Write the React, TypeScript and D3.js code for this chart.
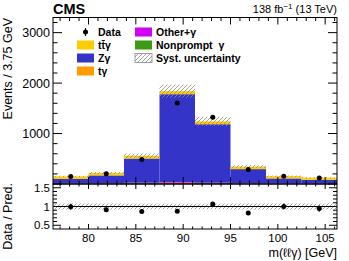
import React from 'react';
import * as d3 from 'd3';

// bin edges in m(llγ), 3.75 GeV wide
const binEdges = [76.25, 80, 83.75, 87.5, 91.25, 95, 98.75, 102.5, 106.25];

// stacked predictions (events / bin)
const nonpromptG = [7, 6, 11, 13, 5, 5, 7, 6];
const otherG = [5, 6, 10, 22, 15, 6, 5, 4];
const tG = [3, 3, 4, 5, 5, 4, 3, 3];
const zG = [85, 155, 480, 1740, 1160, 280, 95, 70];
const ttG = [50, 50, 55, 60, 55, 50, 45, 42];
const systUnc = [12, 18, 42, 130, 90, 28, 13, 10];

// observed
const dataCounts = [149, 201, 487, 1605, 1325, 286, 155, 118];

const xMajor = [80, 85, 90, 95, 100, 105];
const yMajor = [1000, 2000, 3000];
const ratioMajor = [0.5, 1, 1.5];

const W = 349, H = 261;
const L = 53, R = 337, T = 17.5, MB = 184, RB = 229;
const FONT = '"Liberation Sans", Arial, Helvetica, sans-serif';

const series = [
  { key: 'np', vals: nonpromptG, color: '#3c9a14' },
  { key: 'other', vals: otherG, color: '#d200f5' },
  { key: 'tg', vals: tG, color: '#ff9a00' },
  { key: 'zg', vals: zG, color: '#3434c8' },
  { key: 'tt', vals: ttG, color: '#ffcc00' },
];

export default function App() {
  const x = d3.scaleLinear().domain([76.25, 106.25]).range([L, R]);
  const y = d3.scaleLinear().domain([0, 3300]).range([MB, T]);
  const yr = d3.scaleLinear().domain([0.4, 1.6]).range([RB, MB]);

  const rows = dataCounts.map((_, i) => {
    const r: any = { i };
    series.forEach(s => { r[s.key] = s.vals[i]; });
    return r;
  });
  const stacked = d3.stack().keys(series.map(s => s.key))(rows);
  const totals = rows.map((_, i) => d3.sum(series, s => s.vals[i]));

  const xMinor = d3.range(77, 107, 1);
  const yMinor = d3.range(0, 3300, 200);
  const rMinor = d3.range(0.5, 1.6, 0.1);

  const ticksX = (yPos: number, dir: number, major: number, minor: number, key: string) => (
    <g key={key}>
      {xMinor.map(v => {
        const len = xMajor.includes(v) ? major : minor;
        return <line key={v} x1={x(v)} x2={x(v)} y1={yPos} y2={yPos + dir * len} stroke="#000" strokeWidth={1} />;
      })}
    </g>
  );

  const ticksY = (scale: any, vals: number[], majors: number[], major: number, minor: number, key: string) => (
    <g key={key}>
      {vals.map(v => {
        const isMaj = majors.some(m => Math.abs(m - v) < 1e-6);
        const len = isMaj ? major : minor;
        const yy = scale(v);
        return (
          <g key={v}>
            <line x1={L} x2={L + len} y1={yy} y2={yy} stroke="#000" />
            <line x1={R} x2={R - len} y1={yy} y2={yy} stroke="#000" />
          </g>
        );
      })}
    </g>
  );

  const legendLeft = [
    { label: 'tt\u0304\u03b3', color: '#ffcc00' },
    { label: 'Z\u03b3', color: '#3434c8' },
    { label: 't\u03b3', color: '#ff9a00' },
  ];
  const legendRight = [
    { label: 'Other+\u03b3', color: '#d200f5' },
    { label: 'Nonprompt  \u03b3', color: '#3c9a14' },
  ];
  const rowY = [32, 45, 58, 71];

  return (
    <svg width={W} height={H} style={{ position: 'absolute', left: 0, top: 0, background: '#fff' }} fontFamily={FONT}>
      <defs>
        <pattern id="hatch" patternUnits="userSpaceOnUse" width={4} height={4}>
          <path d="M-1,1 l2,-2 M0,4 l4,-4 M3,5 l2,-2" stroke="#8a8a8a" strokeWidth={0.8} />
        </pattern>
        <clipPath id="mainClip"><rect x={L} y={T} width={R - L} height={MB - T} /></clipPath>
      </defs>

      {/* main panel stacks */}
      <g clipPath="url(#mainClip)">
        {stacked.map((layer, li) => (
          <g key={layer.key} fill={series[li].color}>
            {layer.map((d, i) => (
              <rect key={i} x={x(binEdges[i])} width={x(binEdges[i + 1]) - x(binEdges[i])}
                y={y(d[1])} height={Math.max(0, y(d[0]) - y(d[1]))} />
            ))}
          </g>
        ))}
        {totals.map((t, i) => (
          <rect key={i} x={x(binEdges[i])} width={x(binEdges[i + 1]) - x(binEdges[i])}
            y={y(t + systUnc[i])} height={y(t - systUnc[i]) - y(t + systUnc[i])} fill="url(#hatch)" />
        ))}
        {dataCounts.map((n, i) => {
          const cx = x((binEdges[i] + binEdges[i + 1]) / 2);
          const e = Math.sqrt(n);
          return (
            <g key={i}>
              <line x1={cx} x2={cx} y1={y(n - e)} y2={y(n + e)} stroke="#000" />
              <circle cx={cx} cy={y(n)} r={2.5} fill="#000" />
            </g>
          );
        })}
      </g>

      {/* ratio panel */}
      {totals.map((t, i) => {
        const u = systUnc[i] / t;
        return (
          <rect key={i} x={x(binEdges[i])} width={x(binEdges[i + 1]) - x(binEdges[i])}
            y={yr(1 + u)} height={yr(1 - u) - yr(1 + u)} fill="url(#hatch)" />
        );
      })}
      <line x1={L} x2={R} y1={yr(1)} y2={yr(1)} stroke="#000" />
      {dataCounts.map((n, i) => {
        const cx = x((binEdges[i] + binEdges[i + 1]) / 2);
        const r = n / totals[i];
        const e = Math.sqrt(n) / totals[i];
        return (
          <g key={i}>
            <line x1={cx} x2={cx} y1={yr(r - e)} y2={yr(r + e)} stroke="#000" />
            <circle cx={cx} cy={yr(r)} r={2.5} fill="#000" />
          </g>
        );
      })}

      {/* frames */}
      <rect x={L} y={T} width={R - L} height={MB - T} fill="none" stroke="#000" />
      <rect x={L} y={MB} width={R - L} height={RB - MB} fill="none" stroke="#000" />

      {ticksX(T, 1, 7, 3.5, 'tt')}
      {ticksX(MB, -1, 7, 3.5, 'mb')}
      {ticksX(MB, 1, 5, 2.5, 'rt')}
      {ticksX(RB, -1, 5, 2.5, 'rb')}
      {ticksY(y, yMinor, [0, ...yMajor], 9, 4.5, 'ym')}
      {ticksY(yr, rMinor, ratioMajor, 8, 4, 'yr')}

      {/* tick labels */}
      {yMajor.map(v => (
        <text key={v} x={50} y={y(v) + 4.5} fontSize={12.5} textAnchor="end">{v}</text>
      ))}
      {ratioMajor.map(v => (
        <text key={v} x={50} y={yr(v) + 4} fontSize={11.5} textAnchor="end">{v}</text>
      ))}
      {xMajor.map(v => (
        <text key={v} x={x(v)} y={242} fontSize={11.5} textAnchor="middle">{v}</text>
      ))}

      {/* titles */}
      <text transform="translate(12,18) rotate(-90)" fontSize={12.5} textAnchor="end">Events / 3.75 GeV</text>
      <text transform="translate(11.5,183) rotate(-90)" fontSize={12.5} textAnchor="end">Data / Pred.</text>
      <text x={R} y={257} fontSize={12.5} textAnchor="end">m(ℓℓγ) [GeV]</text>
      <text x={L} y={14} fontSize={14.5} fontWeight="bold">CMS</text>
      <text x={R} y={13} fontSize={11} textAnchor="end">
        138 fb<tspan fontSize={8} dy={-4}>−1</tspan><tspan dy={4}> (13 TeV)</tspan>
      </text>

      {/* legend */}
      <g fontSize={10.5} fontWeight="bold">
        <line x1={85.5} x2={85.5} y1={rowY[0] - 4} y2={rowY[0] + 4} stroke="#000" />
        <circle cx={85.5} cy={rowY[0]} r={2.5} fill="#000" />
        <text x={98} y={rowY[0] + 4}>Data</text>
        {legendLeft.map((d, i) => (
          <g key={d.label}>
            <rect x={77} y={rowY[i + 1] - 4.5} width={17} height={9} fill={d.color} />
            <text x={98} y={rowY[i + 1] + 4}>{d.label}</text>
          </g>
        ))}
        {legendRight.map((d, i) => (
          <g key={d.label}>
            <rect x={135} y={rowY[i] - 4.5} width={17} height={9} fill={d.color} />
            <text x={156} y={rowY[i] + 4} xmlSpace="preserve">{d.label}</text>
          </g>
        ))}
        <rect x={135} y={rowY[2] - 4.5} width={17} height={9} fill="url(#hatch)" stroke="#888" strokeWidth={0.8} />
        <text x={156} y={rowY[2] + 4}>Syst. uncertainty</text>
      </g>
    </svg>
  );
}
